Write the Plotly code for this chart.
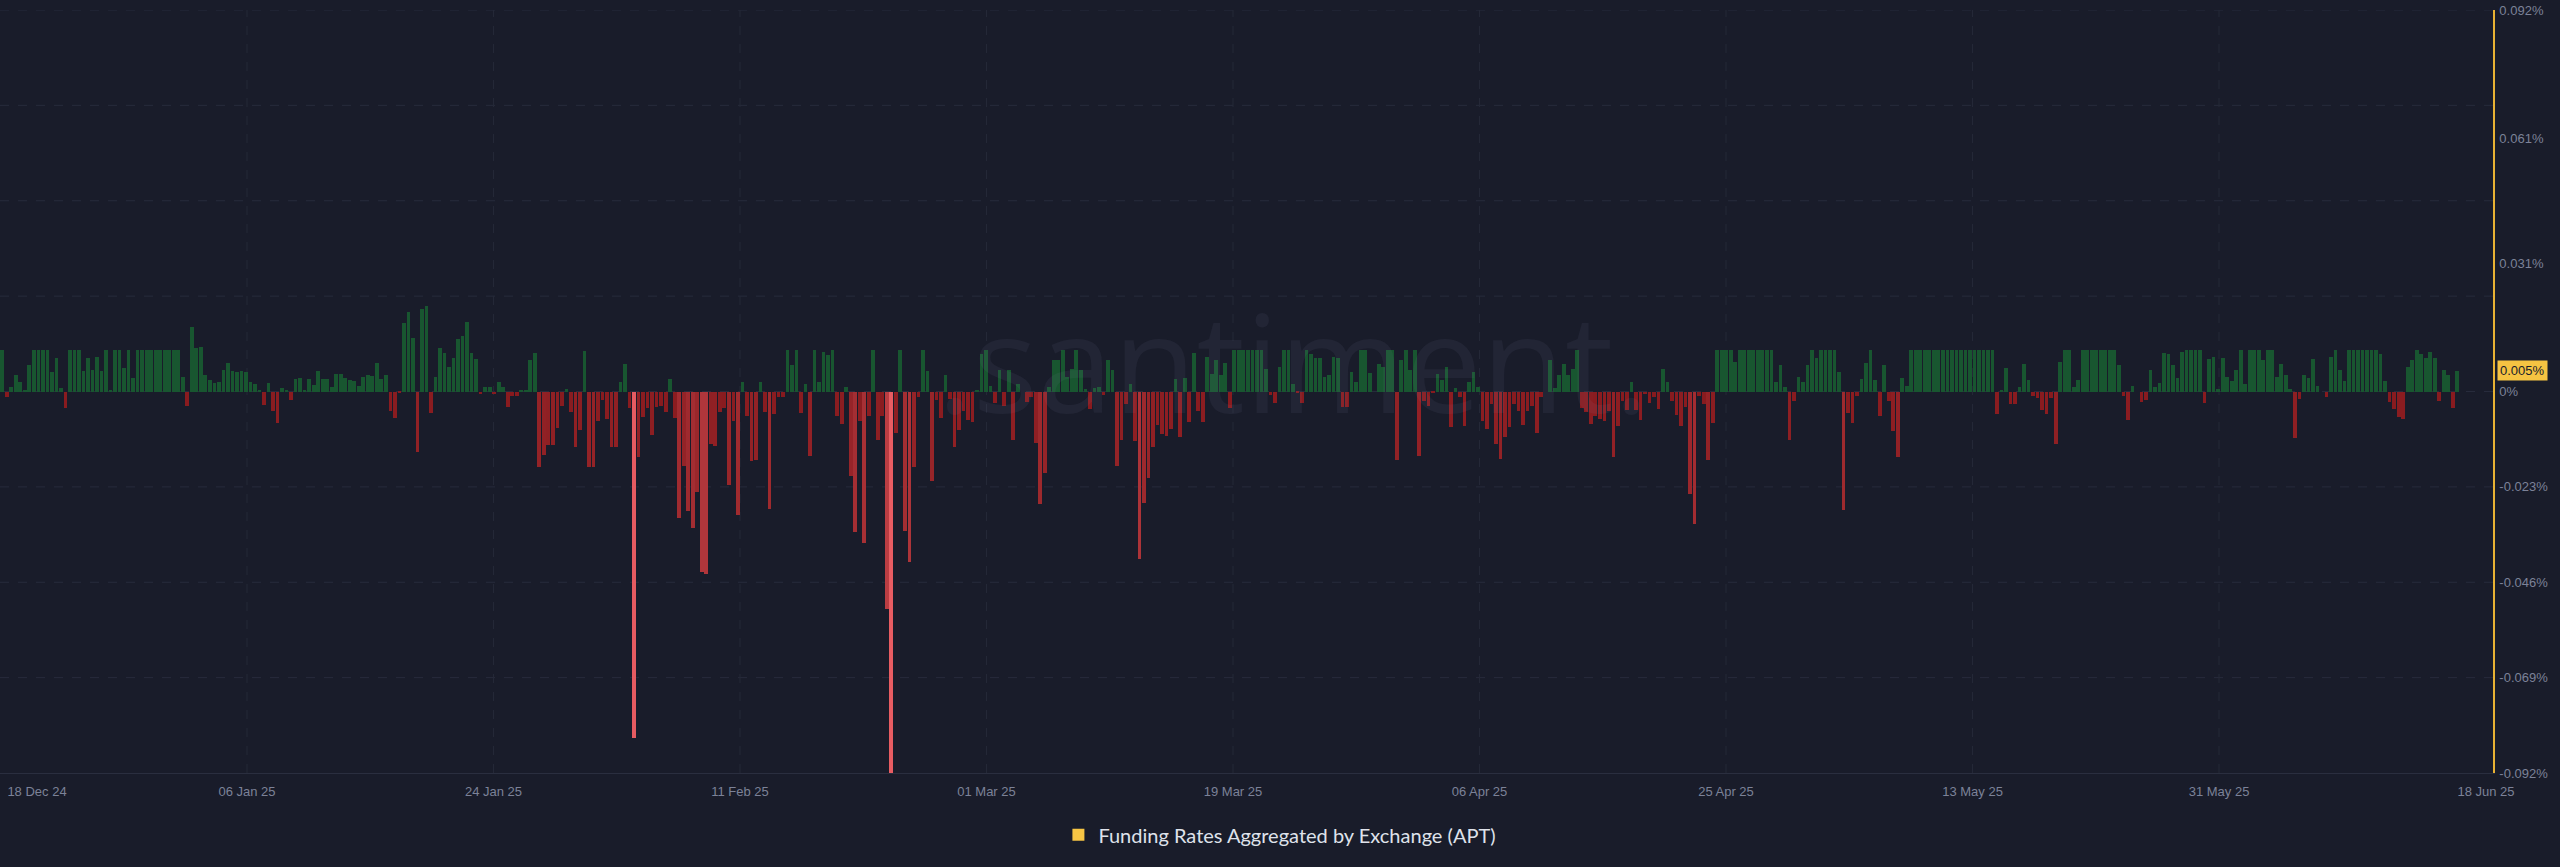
import numpy as np
import pandas as pd
import plotly.graph_objects as go

# Funding rate per 8h interval, in units of 0.001 %  (18 Dec 2024 00:00 -> 17 Jun 2025)
rates_dec = [10, -1.4, 1.2, 4.1, 2.2, 0.2, 6.4, 10, 10, 10, 10, 4.6, 8.1, 0.9, -3.9, 10, 10, 10, 5, 8,
             5.3, 8.3, 5, 10, 0.2, 10, 10, 5.6, 10, 3.3, 10, 10, 10, 10, 10, 10, 10, 10, 10, 10,
             3.5, -3.5]
rates_jan = [15.5, 10.5, 10.7, 3.9, 2.8, 2.0, 2.4, 5.3, 6.8, 5.0, 4.8, 4.9, 4.6, 2.2, 1.7, 0.2, -3.2, 2.0, -4.8, -7.5,
             0.8, 0.3, -2, 2.9, 3.3, 0.3, 3.1, 1.6, 5.0, 2.9, 3.0, 1.1, 4.2, 4.2, 3.2, 2.7, 2.5, 1.4, 3.4, 3.9,
             3.8, 6.8, 2.9, 4.0, -4.6, -6.4, -0.3, 16.6, 19.2, 13, -14.5, 19.8, 20.5, -5.3, 3.4, 10.5, 9.2, 5.8, 8.1, 12.7,
             13.3, 16.8, 9.2, 7.8, -0.5, 1.2, 1.2, -0.6, 2.4, 1.2, -3.8, -1.2, -1, 0.3, 0.3, 7.5, 9.2, -18.3, -15.2, -13,
             -12.8, -8.9, -3.4, 0.6, -5, -13.3, -9.2, 9.7, -18.1, -18.1, -7.2, -2.1, -6.6, -13.5, -13.5, 2.3]
rates_feb = [6.7, -4, -83.6, -15.8, -6.2, -4, -10.5, -3.8, -3.5, -5, 3.1, -6.4, -30.4, -18, -28.9, -33, -24.3, -43.6, -44, -12.6,
             -13.1, -5, -4, -22.6, -7.1, -29.9, 2.4, -5.8, -16.7, -16.5, 2.4, -5, -28.4, -5.4, -1.4, -1.4, 10, 6.3, 10, -5.2,
             1.9, -15.6, 10, 2.3, 9.5, 8.7, 10, -6, -7.8, 1.2, -20.4, -34, -7, -36.6, -5.8, 10, -11.8, -5.8, -52.4, -92,
             -10, 10, -33.7, -41.2, -18.3, -1.4, 10, 4.9, -21.5, -2, -6.3, 3.9, -1.8, -13.5, -9.4, -4.6, -6.8, -7.4, 0.4, 9]
rates_mar = [10, 1.4, -2.7, 5.3, -3.5, 5.3, -11.8, 1.8, 0, -2.6, -1.4, -12.4, -27.1, -19.7, 1.2, 7.5, 7.5, 10, 3.5, 5.5,
             10, 5.3, 0.6, -4.2, 0.9, 1.0, -0.9, 7.5, 5.1, -17.9, -11.8, -3, 1.8, -12, -40.5, -26.8, -20.8, -13.3, -8, -10.2,
             -10.7, -9, 3.1, -11, 3.3, -7.4, 9.3, -4.6, -7.4, 8.4, 4.3, 7.5, 3.9, 6.9, -4, 10, 10, 10,
             10, 10, 10, 10, 5.5, -0.8, -2.8, 6, 10, 10, 1.7, -0.3, -2.7, 10, 9.1, 8, 8, 3.6, 4.1, 8.3,
             8, -3.8, -3.8, 4.8, 2.3, 10, 10, 4.4, 0, 6.7, 5.9, 10, 10, -16.4, 7.6]
rates_apr = [10, 5.2, 10, -15.6, -2.2, -3.4, -0.3, 4.3, 2.7, 5.9, -8.6, 0.8, -1.4, -8.2, 2.3, 4.6, 1.0, -7.2, -9, -3,
             -12.6, -16.2, -11, -8.6, -3, -4.7, -8, -4.8, -3.6, -10, -1.4, 0, 7.6, 0.9, 3.9, 6.6, 3.9, 5.5, 10, -4,
             -5, -7.8, -6, -6.6, -7.2, -4.8, -15.7, -8.2, -2.2, -4.4, 2.4, -4.4, -6.8, -0.6, -2.8, -1.4, -4.3, 5.5, 2.4, -2.2,
             -5.6, -8.4, -3.8, -24.7, -31.9, -1, -3.1, -16.6, -7.6, 10, 10, 10, 10, 7.2, 10, 10, 10, 10, 10, 10,
             10, 10, 2.3, 6.3, 1.2, -11.6, -2.2, 3.6, 2.3, 6.5]
rates_may = [10, 8.1, 10, 10, 10, 10, 4.8, -28.5, -5.2, -7.6, -1.2, 3.1, 6.9, 10, 2.7, -5.8, 6.5, -2.3, -9.6, -15.8,
             3.3, 1.4, 10, 10, 10, 10, 10, 10, 10, 10, 10, 10, 10, 10, 10, 10, 10, 10, 10, 10,
             10, -5.4, 0.2, 5.7, -3, -3, 1.2, 6.7, 2.8, -1, -1.5, -4.4, -5.4, -1.5, -12.6, 7.2, 10, 10, 1.2, 2.8,
             10, 10, 10, 10, 10, 10, 10, 10, 6.3, -1.1, -6.8, 1.4, 0, -2.6, -2, 5.3, 1.2, 2.1, 9.2, 9.1,
             6.5, 3.3, 9.6, 10, 10, 10, 10, -2.8, 7.9, 8.3, 0.6, 8.1, 3.5]
rates_jun = [2.5, 5.2, 10, 1.8, 10, 10, 10, 7.6, 10, 10, 3.5, 6.7, 3.9, 0.6, -11.3, -1.8, 3.9, 3.3, 7.9, 1.4,
             0, -1.4, 8.3, 10, 5.3, 2.5, 10, 10, 10, 10, 10, 10, 10, 9.1, 2.5, -2.6, -4.2, -6.2, -6.6, 6,
             7.5, 10, 9.1, 8.1, 9.5, 8.1, -2.2, 5.1, 3.9, -3.9, 5]

y_label_vals = [0.092, 0.061, 0.031, 0, -0.023, -0.046, -0.069, -0.092]
y_label_text = ["0.092%", "0.061%", "0.031%", "0%", "-0.023%", "-0.046%", "-0.069%", "-0.092%"]
y_grid_vals = [0.092, 0.069, 0.046, 0.023, 0, -0.023, -0.046, -0.069]
x_tick_text = ["18 Dec 24", "06 Jan 25", "24 Jan 25", "11 Feb 25", "01 Mar 25", "19 Mar 25",
               "06 Apr 25", "25 Apr 25", "13 May 25", "31 May 25", "18 Jun 25"]

units = np.array(rates_dec + rates_jan + rates_feb + rates_mar + rates_apr + rates_may + rates_jun, dtype=float)
vals = units / 1000.0
t0 = pd.Timestamp("2024-12-18 00:00")
times = t0 + pd.to_timedelta(np.arange(len(vals)) * 8, unit="h")

# pixel helpers (layout only): plot area 0..2493 px, one 8h bar = 4.513 px
BAR_PX = 4.513


def px2t(p):
    return t0 + pd.Timedelta(hours=(p - 2.25) / BAR_PX * 8)


tick_px = [37] + [247 + 246.5 * k for k in range(9)] + [2486]
grid_px = [247 + 246.5 * k for k in range(9)]

BG = "#191c2a"
GREEN = np.array([24, 86, 48])
RED_D = np.array([135, 26, 30])
RED_B = np.array([232, 92, 98])


def bar_color(v):
    if v >= 0:
        c = GREEN
    else:
        t = min(1.0, abs(v) / 0.085) ** 1.3
        c = RED_D + (RED_B - RED_D) * t
    return "rgb(%d,%d,%d)" % tuple(int(round(x)) for x in c)


colors = [bar_color(v) for v in vals]

fig = go.Figure()
fig.add_trace(go.Bar(x=times, y=vals, marker=dict(color=colors, line=dict(width=0)),
                     width=8 * 3600 * 1000 * 0.82, showlegend=False, hoverinfo="x+y"))
fig.add_trace(go.Scatter(x=[None], y=[None], mode="markers",
                         marker=dict(symbol="square", size=12, color="#f7c544"),
                         name="Funding Rates Aggregated by Exchange (APT)", showlegend=True))

shapes = []
for g in y_grid_vals:
    shapes.append(dict(type="line", xref="paper", yref="y", x0=0, x1=1, y0=g, y1=g,
                       line=dict(color="#272b3c", width=1, dash="dash"), layer="below"))
for p in grid_px:
    shapes.append(dict(type="line", xref="x", yref="paper", x0=px2t(p), x1=px2t(p), y0=0, y1=1,
                       line=dict(color="#242837", width=1, dash="dash"), layer="below"))

fig.update_layout(
    width=2560, height=867,
    margin=dict(l=0, r=67, t=10, b=94),
    paper_bgcolor=BG, plot_bgcolor=BG,
    bargap=0,
    shapes=shapes,
    font=dict(family="Liberation Sans, Arial, sans-serif"),
    xaxis=dict(type="date", range=[px2t(0), px2t(2493)], showgrid=False, zeroline=False,
               showline=True, linecolor="#2a2e3f", linewidth=1,
               tickvals=[px2t(p) for p in tick_px], ticktext=x_tick_text, ticks="",
               tickfont=dict(size=13, color="#7c8298"), ticklabelstandoff=6),
    yaxis=dict(range=[-0.092, 0.092], side="right", showgrid=False, zeroline=False,
               showline=True, linecolor="#e8b234", linewidth=1.5,
               tickvals=y_label_vals, ticktext=y_label_text, ticks="",
               tickfont=dict(size=13, color="#7c8298"), ticklabelstandoff=2),
    legend=dict(orientation="h", x=0.5134, xanchor="center", y=-0.081, yanchor="middle",
                font=dict(size=20, color="#dfe2ea", family="Lato, sans-serif"),
                bgcolor="rgba(0,0,0,0)"),
    annotations=[
        dict(text=".santiment.", xref="paper", yref="paper", x=0.5185, y=0.54,
             xanchor="center", yanchor="middle", showarrow=False,
             font=dict(size=136, color="rgba(150,160,200,0.07)", family="Open Sans, sans-serif")),
        dict(text="%.3f%%" % vals[-1], xref="paper", yref="y", x=1, y=vals[-1], xanchor="left",
             yanchor="middle", xshift=4, showarrow=False, bgcolor="#f5c342", borderpad=2,
             font=dict(size=13, color="#1a1d2b")),
    ],
)

fig.write_html("out.html", config={"displayModeBar": False},
               post_script="document.body.style.margin='0';document.body.style.overflow='hidden';"
                           "document.body.style.background='%s';" % BG)
